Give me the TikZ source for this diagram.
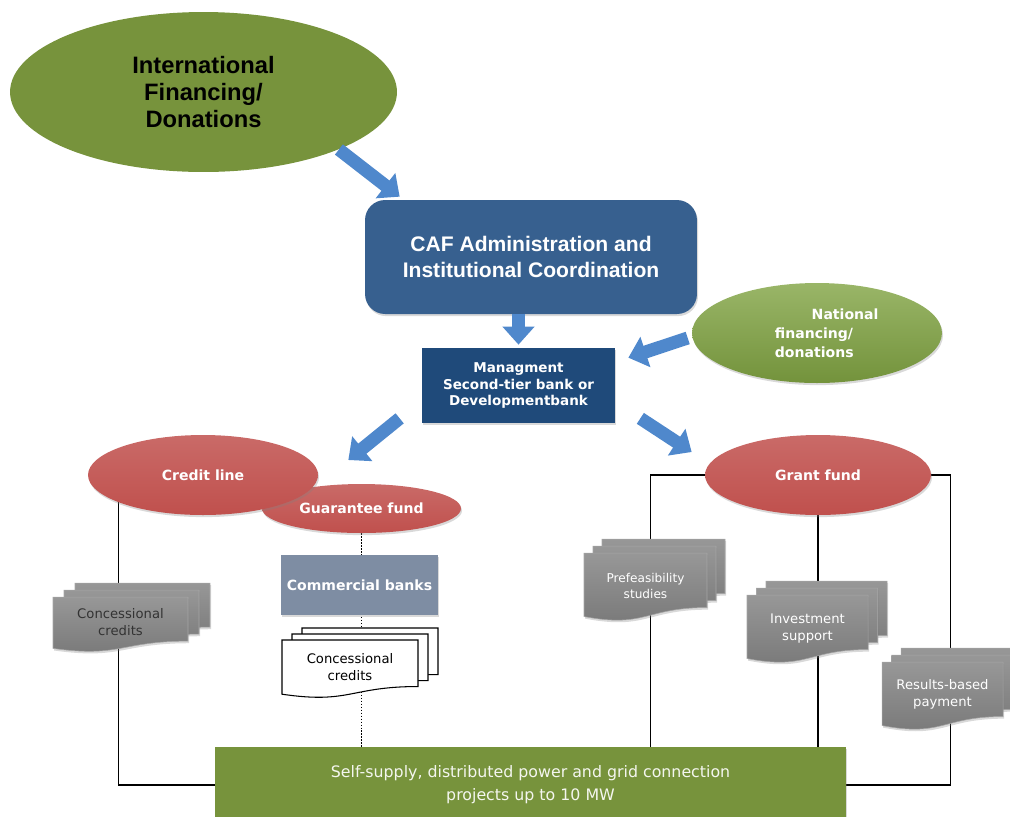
\documentclass[tikz,border=0pt]{standalone}
\usepackage{fontspec}
\setmainfont{Liberation Sans}
\newfontfamily\smallsans{DejaVu Sans}
\usepackage{tikz}
\usetikzlibrary{shapes.geometric}
\usetikzlibrary{arrows.meta}
\usetikzlibrary{calc}
\usetikzlibrary{shadows}
\usetikzlibrary{backgrounds}

\definecolor{olivegreen}{HTML}{77933C}
\definecolor{natgreen}{HTML}{80A342}
\definecolor{cafblue}{HTML}{37608F}
\definecolor{mgmtblue}{HTML}{1F4A7A}
\definecolor{arrowblue}{HTML}{4F88CC}
\definecolor{fundred}{HTML}{C0504D}
\definecolor{bankgray}{HTML}{7E8DA3}
\definecolor{docgray}{HTML}{858585}

\newcommand{\docstack}[7]{%
  \foreach \k in {2,1,0}
    \draw[#7] ({#1+\k*#5},{#2-\k*#6}) -- ({#1+\k*#5+#3},{#2-\k*#6})
      -- ({#1+\k*#5+#3},{#2-\k*#6+0.802*#4})
      .. controls ({#1+\k*#5+0.5*#3},{#2-\k*#6+0.802*#4}) and ({#1+\k*#5+0.5*#3},{#2-\k*#6+1.107*#4})
      .. ({#1+\k*#5},{#2-\k*#6+0.934*#4}) -- cycle;}

\tikzset{
  softshadow/.style={drop shadow={shadow xshift=0.6pt, shadow yshift=-1.2pt, opacity=0.3}},
  bigarrow/.style={draw=arrowblue, line width=0.26cm, -{Triangle[width=0.62cm, length=0.36cm]}},
  link/.style={draw=black, line width=0.8pt},
  dotlink/.style={draw=black, line width=0.7pt, densely dotted},
  fund/.style={ellipse, inner sep=0pt, top color=fundred!85!white, bottom color=fundred,
    text=white, font=\smallsans\bfseries\fontsize{8}{9.5}\selectfont, softshadow},
  graydoc/.style={top color=docgray!85!white, bottom color=docgray!90!black, draw=gray!70, line width=0.3pt, softshadow},
  whitedoc/.style={fill=white, draw=black, line width=0.6pt},
  doclabel/.style={align=center, font=\smallsans\fontsize{7.5}{9.6}\selectfont, inner sep=0pt}
}

\begin{document}
\begin{tikzpicture}[x=0.02cm, y=-0.02cm]
  \useasboundingbox (0,0) rectangle (1010,816);

  \node[ellipse, fill=olivegreen, minimum width=7.74cm, minimum height=3.2cm, inner sep=0pt, align=center,
    font=\bfseries\fontsize{13.5}{15.5}\selectfont] (intl) at (203.5,92) {International\\Financing/\\Donations};
  \node[rectangle, rounded corners=0.4cm, fill=cafblue, minimum width=6.64cm, minimum height=2.28cm, align=center,
    text=white, font=\bfseries\fontsize{12}{14.7}\selectfont, softshadow] (caf) at (531,257) {CAF Administration and\\Institutional Coordination};
  \node[rectangle, fill=mgmtblue, minimum width=3.86cm, minimum height=1.5cm, align=center, text=white,
    font=\smallsans\bfseries\fontsize{7.7}{9.6}\selectfont, softshadow] (mgmt) at (518.5,385.5) {Managment\\Second-tier bank or\\Developmentbank};
  \node[ellipse, top color=natgreen!80!white, bottom color=natgreen!90!black, minimum width=5cm, minimum height=2cm,
    inner sep=0pt, align=left, text=white, font=\smallsans\bfseries\fontsize{8}{10.8}\selectfont, softshadow] (nat) at (817,333)
    {\hspace*{32pt}National\\\hspace*{11pt}financing/\\\hspace*{11pt}donations};

  \node[rectangle, fill=olivegreen, minimum width=12.62cm, minimum height=1.52cm, align=center, text=white!92!olivegreen,
    font=\smallsans\fontsize{9}{13}\selectfont, softshadow] (self) at (530.5,785) {Self-supply, distributed power and grid connection\\projects up to 10 MW};

  \node[fund, minimum width=3.98cm, minimum height=0.98cm] (guar) at (361.5,508.5) {Guarantee fund};
  \node[fund, minimum width=4.6cm, minimum height=1.6cm] (credit) at (203,475) {Credit line};
  \node[fund, minimum width=4.52cm, minimum height=1.6cm] (grant) at (818,475) {Grant fund};

  \node[rectangle, fill=bankgray, minimum width=3.14cm, minimum height=1.2cm, text=white,
    font=\smallsans\bfseries\fontsize{8}{9.5}\selectfont, softshadow] (banks) at (359.5,585) {Commercial banks};

  \begin{pgfonlayer}{background}
    \draw[link] (credit.198) |- (self.west);
    \draw[dotlink] (guar.south) -- (guar.south |- self.north);
    \draw[link] (grant.west) -- ++(-54,0) coordinate (grantleft) -- (grantleft |- self.north);
    \draw[link] (grant.south) -- (grant.south |- self.north);
    \draw[link] (grant.east) -- ++(19,0) |- (self.east);
  \end{pgfonlayer}

  \docstack{53}{597}{135}{55}{11}{7}{graydoc}
  \node[doclabel, text=black!80] (cc) at (120.5,622) {Concessional\\credits};
  \docstack{282}{640}{136}{58}{10}{6}{whitedoc}
  \node[doclabel] (ccw) at (350,667) {Concessional\\credits};
  \docstack{584}{553}{123}{68}{9}{7}{graydoc}
  \node[doclabel, text=white, font=\smallsans\fontsize{6.9}{9}\selectfont] (pre) at (645.5,586) {Prefeasibility\\studies};
  \docstack{747}{595}{121}{68}{9.5}{7}{graydoc}
  \node[doclabel, text=white] (inv) at (807.5,628.5) {Investment\\support};
  \docstack{882}{662}{121}{68}{9.5}{7}{graydoc}
  \node[doclabel, text=white] (res) at (942.5,694) {Results-based\\payment};

  \draw[bigarrow] (intl.-23) -- ($(caf.north west)+(35,-3)$);
  \draw[bigarrow] (mgmt.north |- caf.south) -- ($(mgmt.north)+(0,-3)$);
  \draw[bigarrow] ($(nat.west)+(-4,5)$) -- ($(mgmt.north east)+(13,10)$);
  \draw[bigarrow] ($(mgmt.south west)+(-22,-5)$) -- ($(credit.east)+(30,-15)$);
  \draw[bigarrow] ($(mgmt.south east)+(25,-5)$) -- ($(grant.west)+(-13,-23)$);
\end{tikzpicture}
\end{document}
